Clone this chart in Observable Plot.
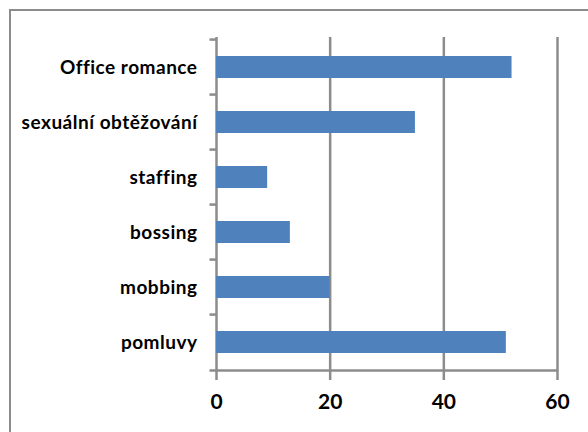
<!DOCTYPE html>
<html>
<head>
<meta charset="utf-8">
<script src="https://cdn.jsdelivr.net/npm/d3@7"></script>
<script src="https://cdn.jsdelivr.net/npm/@observablehq/plot@0.6"></script>
<style>
  html, body { margin: 0; padding: 0; background: #fff; width: 588px; height: 432px; overflow: hidden; }
  #border { position: absolute; left: 9px; top: 9px; width: 700px; height: 600px;
            border-left: 2px solid #8c8c8c; border-top: 2px solid #8c8c8c; box-sizing: border-box; }
  #chart { position: absolute; left: 0; top: 0; }
  #chart svg text { font-variant-ligatures: none; }
  #chart svg g[aria-label="y-axis tick label"] text { letter-spacing: 0.5px; }
</style>
</head>
<body>
<div id="border"></div>
<div id="chart"></div>
<script>
const categories = ["Office romance", "sexuální obtěžování", "staffing", "bossing", "mobbing", "pomluvy"];
const values = [52, 35, 9, 13, 20, 51];
const xTicks = [0, 20, 40, 60];

const data = categories.map((c, i) => ({category: c, value: values[i]}));

const W = 588, H = 432;
const mTop = 37, mBottom = 60, mLeft = 216, mRight = 31;
const step = (H - mTop - mBottom) / categories.length;
const gray = "#8c8c8c";

const chart = Plot.plot({
  width: W,
  height: H,
  marginTop: mTop,
  marginBottom: mBottom,
  marginLeft: mLeft,
  marginRight: mRight,
  style: {fontFamily: "Lato", fontWeight: "bold", color: "#000", background: "transparent"},
  x: {domain: [0, 60], label: null},
  y: {domain: categories, paddingInner: 0.6, paddingOuter: 0.3, label: null},
  marks: [
    Plot.ruleX(xTicks, {x: d => d, stroke: gray, strokeWidth: 2.5}),
    Plot.barX(data, {x: "value", y: "category", fill: "#4f81bd"}),
    Plot.ruleY(categories, {y: d => d, x1: -1.15, x2: 0, dy: -step / 2, stroke: gray, strokeWidth: 2.5}),
    Plot.ruleY([categories[categories.length - 1]], {y: d => d, x1: -1.15, x2: 60, dy: step / 2, stroke: gray, strokeWidth: 2.5}),
    Plot.axisX({ticks: xTicks, tickSize: 8, tickPadding: 14, fontSize: 21, fontWeight: "bold",
                stroke: gray, strokeWidth: 2.5, label: null, tickFormat: d => String(d)}),
    Plot.axisY({tickSize: 0, tickPadding: 19, fontSize: 19, fontWeight: "bold", label: null})
  ]
});
document.getElementById("chart").appendChild(chart);
</script>
</body>
</html>
